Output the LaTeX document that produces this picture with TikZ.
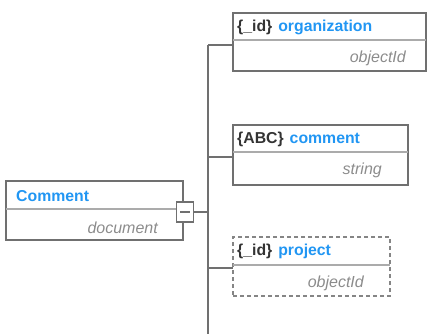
\documentclass[tikz,border=0pt]{standalone}
\usepackage{fontspec}
\setmainfont{Liberation Sans}

\definecolor{fieldblue}{HTML}{2196F3}
\definecolor{boxgray}{HTML}{707070}
\definecolor{rulegray}{HTML}{ABABAB}
\definecolor{typegray}{HTML}{8C8C8C}
\definecolor{keygray}{HTML}{333333}

\begin{document}
\begin{tikzpicture}
[
	x=1pt,y=-1pt,
	box/.style={rectangle,draw=boxgray,line width=1.6,minimum height=59pt,anchor=north west,inner sep=0,outer sep=0},
	title/.style={anchor=west,font=\bfseries\fontsize{15.8}{18}\selectfont,inner sep=0},
	type/.style={anchor=east,font=\itshape\fontsize{16}{18}\selectfont,text=typegray,inner sep=0},
	sep/.style={draw=rulegray,line width=1.4},
	wire/.style={draw=boxgray,line width=1.3}
]

\useasboundingbox (0,0) rectangle (427,334);

% parent document
\node[box,minimum width=177pt] (comment) at (6,181) {};
\draw[sep] (6,209) -- (183,209);
\node[title,text=fieldblue] (commentname) at (16,196) {Comment};
\node[type] (commenttype) at (158,228) {document};

% fields
\node[box,minimum width=193pt,minimum height=58pt] (org) at (233,13) {};
\draw[sep] (233,40) -- (426,40);
\node[title] (orgname) at (237,27) {\textcolor{keygray}{\{\_id\}}\hspace{6pt}\textcolor{fieldblue}{organization}};
\node[type] (orgtype) at (406,58) {objectId};

\node[box,minimum width=175pt,minimum height=60pt] (cmt) at (233,125) {};
\draw[sep] (233,152) -- (408,152);
\node[title] (cmtname) at (237,139) {\textcolor{keygray}{\{ABC\}}\hspace{6pt}\textcolor{fieldblue}{comment}};
\node[type] (cmttype) at (382,170) {string};

\node[box,draw=boxgray!85,dash pattern=on 4pt off 3pt,minimum width=157pt] (proj) at (233,237) {};
\draw[sep] (233,265) -- (390,265);
\node[title] (projname) at (237,251) {\textcolor{keygray}{\{\_id\}}\hspace{6pt}\textcolor{fieldblue}{project}};
\node[type] (projtype) at (364,283) {objectId};

% tree
\node[rectangle,draw=boxgray,fill=white,line width=1.5,minimum width=17pt,minimum height=20pt,inner sep=0] (toggle) at (185,212) {};
\draw[draw=boxgray,line width=1.8] (180,212) -- (190,212);

\coordinate (top) at (208,45);
\coordinate (bot) at (208,334);

\draw[wire] (top) -- (bot);
\draw[wire] (toggle.east) -- (toggle.east -| top);
\draw[wire] (top) -- (top -| org.west);
\draw[wire] (208,157) -- (cmt.west |- 0,157);
\draw[wire] (208,268) -- (proj.west |- 0,268);

\end{tikzpicture}
\end{document}
